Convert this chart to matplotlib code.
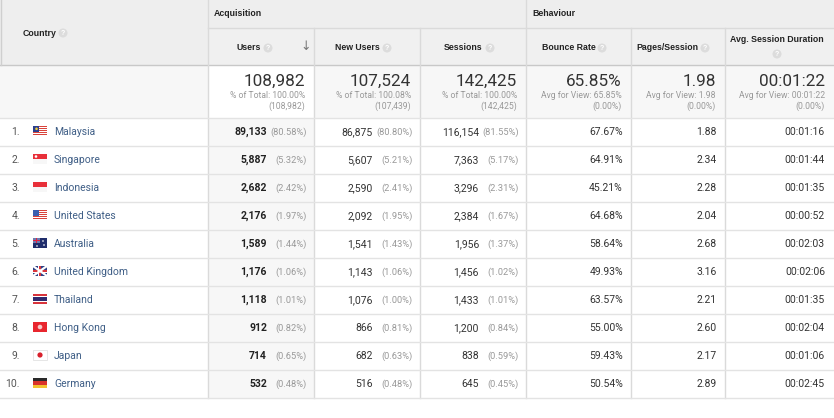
import matplotlib
matplotlib.use("Agg")
from matplotlib import pyplot as plt
from matplotlib.patches import Rectangle, Circle

countries = ["Malaysia", "Singapore", "Indonesia", "United States", "Australia",
             "United Kingdom", "Thailand", "Hong Kong", "Japan", "Germany"]
users = [89133, 5887, 2682, 2176, 1589, 1176, 1118, 912, 714, 532]
users_pct = [80.58, 5.32, 2.42, 1.97, 1.44, 1.06, 1.01, 0.82, 0.65, 0.48]
new_users = [86875, 5607, 2590, 2092, 1541, 1143, 1076, 866, 682, 516]
new_users_pct = [80.80, 5.21, 2.41, 1.95, 1.43, 1.06, 1.00, 0.81, 0.63, 0.48]
sessions = [116154, 7363, 3296, 2384, 1956, 1456, 1433, 1200, 838, 645]
sessions_pct = [81.55, 5.17, 2.31, 1.67, 1.37, 1.02, 1.01, 0.84, 0.59, 0.45]
bounce_rate = [67.67, 64.91, 45.21, 64.68, 58.64, 49.93, 63.57, 55.00, 59.43, 50.54]
pages_session = [1.88, 2.34, 2.28, 2.04, 2.68, 3.16, 2.21, 2.60, 2.17, 2.89]
avg_duration = ["00:01:16", "00:01:44", "00:01:35", "00:00:52", "00:02:03",
                "00:02:06", "00:01:35", "00:02:04", "00:01:06", "00:02:45"]

headers = ["Users", "New Users", "Sessions", "Bounce Rate", "Pages/Session", "Avg. Session Duration"]
totals = ["108,982", "107,524", "142,425", "65.85%", "1.98", "00:01:22"]
totals_sub = ["% of Total: 100.00%", "% of Total: 100.08%", "% of Total: 100.00%",
              "Avg for View: 65.85%", "Avg for View: 1.98", "Avg for View: 00:01:22"]
totals_sub2 = ["(108,982)", "(107,439)", "(142,425)", "(0.00%)", "(0.00%)", "(0.00%)"]

W, H = 834, 418
edges = [0, 208, 314, 420, 526, 631, 725, 834]
row_top, row_h = 118, 28
LINE = "#dadada"
NUM = ["Roboto", "DejaVu Sans"]
HEAD = ["Liberation Sans", "DejaVu Sans"]
HS = 6.3

fig = plt.figure(figsize=(W / 100, H / 100), dpi=100)
ax = fig.add_axes([0, 0, 1, 1])
ax.set_xlim(0, W)
ax.set_ylim(H, 0)
ax.axis("off")


def rect(x0, y0, w, h, c, z=1, **kw):
    ax.add_patch(Rectangle((x0, y0), w, h, facecolor=c, edgecolor="none", zorder=z, **kw))


def qmark(x, y):
    ax.add_patch(Circle((x, y), 4.5, facecolor="#dcdcdc", edgecolor="none", zorder=5))
    ax.text(x, y + 0.5, "?", color="white", fontsize=5, ha="center", va="center",
            family=HEAD, fontweight="bold", zorder=6)


# backgrounds
rect(0, 0, W, 65, "#eeeeee")
rect(208, 28, W - 208, 37, "#f0f0f0")
rect(0, 65, W, 53, "#f7f7f7")
rect(208, 65, 106, 53, "white")
n = len(countries)
rect(0, row_top, W, row_h * n, "white")
rect(208, row_top, 106, row_h * n, "#f7f7f7")

# grid lines
ax.plot([0, W], [65, 65], color="#c8c8c8", lw=1, zorder=3)
ax.plot([208, W], [28, 28], color=LINE, lw=1, zorder=3)
ax.plot([1, 1], [0, 65], color="#cfcfcf", lw=1, zorder=3)
for e in edges[1:-1]:
    top = 0 if e in (208, 526) else 28
    ax.plot([e, e], [top, row_top + row_h * n], color=LINE, lw=1, zorder=3)
for i in range(n + 1):
    y = row_top + row_h * i
    ax.plot([0, W], [y, y], color="#e3e3e3", lw=1, zorder=3)

# header text
ax.text(214, 14, "Acquisition", fontsize=HS, family=HEAD, fontweight="bold", color="#222",
        va="center", zorder=6)
ax.text(532, 14, "Behaviour", fontsize=HS, family=HEAD, fontweight="bold", color="#222",
        va="center", zorder=6)
ax.text(23, 33, "Country", fontsize=HS, family=HEAD, fontweight="bold", color="#222",
        va="center", zorder=6)
qmark(63, 33)

label_x = [237, 335, 444, 542, 636]
q_x = [268, 387, 490, 602, 705]
for j, name in enumerate(headers[:5]):
    ax.text(label_x[j], 48, name, fontsize=HS, family=HEAD, fontweight="bold",
            color="#222", va="center", zorder=6)
    qmark(q_x[j], 48)
ax.text(306, 46, "\u2193", fontsize=9, family=NUM, color="#777", ha="center", va="center", zorder=6)
ax.text(777, 39, headers[5], fontsize=HS, family=HEAD, fontweight="bold", color="#222",
        ha="center", va="center", zorder=6)
qmark(777, 54)

# totals row
for j in range(6):
    xr = edges[j + 2] - 9
    ax.text(xr, 81, totals[j], fontsize=12.3, family=NUM, color="#333",
            ha="right", va="center", zorder=6)
    ax.text(xr, 96, totals_sub[j], fontsize=6.2, family=NUM, color="#999", ha="right",
            va="center", zorder=6)
    ax.text(xr, 106, totals_sub2[j], fontsize=6.2, family=NUM, color="#999", ha="right",
            va="center", zorder=6)


# flags
def flag(name, x, y):
    w, h = 14, 10
    x0, y0 = x, y - h / 2

    def r(a, b, c, d, col):
        rect(x0 + a, y0 + b, c, d, col, z=6)

    if name in ("Malaysia", "United States"):
        for k in range(5):
            r(0, k * 2, w, 1, "#d9433b")
            r(0, k * 2 + 1, w, 1, "white")
        r(0, 0, 6.5, 5.5, "#2b3f8f" if name == "Malaysia" else "#3a5fb0")
        if name == "Malaysia":
            ax.add_patch(Circle((x0 + 3.5, y0 + 2.8), 1.3, facecolor="#f2d23a",
                                edgecolor="none", zorder=7))
    elif name in ("Singapore", "Indonesia"):
        r(0, 0, w, h / 2, "#e8303a")
        r(0, h / 2, w, h / 2, "#f7f7f7")
        if name == "Singapore":
            ax.add_patch(Circle((x0 + 3, y0 + 2.5), 1.3, facecolor="white",
                                edgecolor="none", zorder=7))
    elif name == "Australia":
        r(0, 0, w, h, "#1f2d6b")
        r(0, 0, 7, 5, "#6d7bb0")
        r(3, 0, 1, 5, "#d24")
        r(0, 2, 7, 1, "#d24")
        for px, py in [(10, 3), (11, 7), (4, 8)]:
            ax.add_patch(Circle((x0 + px, y0 + py), 0.8, facecolor="white",
                                edgecolor="none", zorder=7))
    elif name == "United Kingdom":
        r(0, 0, w, h, "#2b3f85")
        ax.plot([x0, x0 + w], [y0, y0 + h], color="white", lw=1.6, zorder=7)
        ax.plot([x0, x0 + w], [y0 + h, y0], color="white", lw=1.6, zorder=7)
        r(5.5, 0, 3, h, "white")
        r(0, 3.5, w, 3, "white")
        r(6.3, 0, 1.4, h, "#d8343c")
        r(0, 4.3, w, 1.4, "#d8343c")
    elif name == "Thailand":
        r(0, 0, w, h, "#d8343c")
        r(0, 1.7, w, 6.6, "white")
        r(0, 3.3, w, 3.4, "#2d2a6e")
    elif name == "Hong Kong":
        r(0, 0, w, h, "#e8262e")
        ax.add_patch(Circle((x0 + 7, y0 + 5), 2.3, facecolor="#f7c9c9",
                            edgecolor="none", zorder=7))
    elif name == "Japan":
        ax.add_patch(Rectangle((x0, y0), w, h, facecolor="white", edgecolor="#e2e2e2",
                               lw=0.6, zorder=6))
        ax.add_patch(Circle((x0 + 7, y0 + 5), 2.6, facecolor="#d8202c",
                            edgecolor="none", zorder=7))
    elif name == "Germany":
        r(0, 0, w, h / 3, "#2a2a2a")
        r(0, h / 3, w, h / 3, "#d9332b")
        r(0, 2 * h / 3, w, h / 3, "#f2c230")


# data rows
VS, PS = 7.5, 6.7
for i in range(n):
    yc = row_top + row_h * i + row_h / 2
    ax.text(20, yc, f"{i + 1}.", fontsize=VS, family=NUM, color="#555", ha="right",
            va="center", zorder=6)
    flag(countries[i], 33, yc - 1)
    ax.text(54, yc, countries[i], fontsize=VS, family=NUM, color="#3f5e86",
            va="center", zorder=6)
    ax.text(267, yc, f"{users[i]:,}", fontsize=VS, family=NUM, fontweight="bold",
            color="#222", ha="right", va="center", zorder=6)
    ax.text(307, yc, f"({users_pct[i]:.2f}%)", fontsize=PS, family=NUM, color="#999",
            ha="right", va="center", zorder=6)
    ax.text(373, yc, f"{new_users[i]:,}", fontsize=VS, family=NUM, color="#333",
            ha="right", va="center", zorder=6)
    ax.text(413, yc, f"({new_users_pct[i]:.2f}%)", fontsize=PS, family=NUM, color="#999",
            ha="right", va="center", zorder=6)
    ax.text(479, yc, f"{sessions[i]:,}", fontsize=VS, family=NUM, color="#333",
            ha="right", va="center", zorder=6)
    ax.text(519, yc, f"({sessions_pct[i]:.2f}%)", fontsize=PS, family=NUM, color="#999",
            ha="right", va="center", zorder=6)
    ax.text(623, yc, f"{bounce_rate[i]:.2f}%", fontsize=VS, family=NUM, color="#333",
            ha="right", va="center", zorder=6)
    ax.text(717, yc, f"{pages_session[i]:.2f}", fontsize=VS, family=NUM, color="#333",
            ha="right", va="center", zorder=6)
    ax.text(825, yc, avg_duration[i], fontsize=VS, family=NUM, color="#333",
            ha="right", va="center", zorder=6)

fig.savefig("out.png", dpi=100)
